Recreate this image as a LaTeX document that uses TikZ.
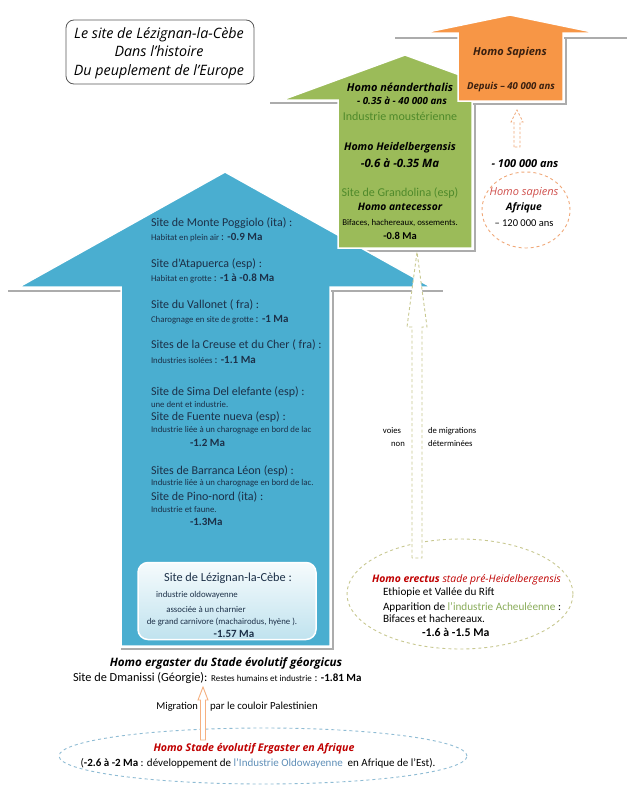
\documentclass[tikz,border=0pt]{standalone}
\usepackage{fontspec}
\setmainfont{Carlito}
\newfontfamily\hf{Open Sans}
\usetikzlibrary{calc,shapes.geometric}
\definecolor{bluefill}{HTML}{4AAED0}
\definecolor{greenfill}{HTML}{9BBB59}
\definecolor{orangefill}{HTML}{F79646}
\definecolor{navytext}{HTML}{1C3048}
\definecolor{darkgreen}{HTML}{4F8A2B}
\definecolor{lightgreen}{HTML}{8AAD5A}
\definecolor{redtext}{HTML}{C00000}
\definecolor{pinkred}{HTML}{D0504D}
\definecolor{oldo}{HTML}{5F8FB8}
\definecolor{olivedash}{HTML}{C8C890}
\definecolor{bluedash}{HTML}{8FBCD4}
\definecolor{orangedash}{HTML}{F0A878}
\definecolor{orangeline}{HTML}{F5B080}
\definecolor{brownish}{HTML}{3A2010}
\newcommand\fsz[1]{\fontsize{#1}{#1}\selectfont}
\newcommand\hollowarrow[6]{%
  \path[#1] ($(#2)+(-#4,0)$) -- ($(#2 |- #3)+(-#4,#6)$) -- ($(#2 |- #3)+(-#5,#6)$) -- (#3)
    -- ($(#2 |- #3)+(#5,#6)$) -- ($(#2 |- #3)+(#4,#6)$) -- ($(#2)+(#4,0)$) -- cycle;}
\tikzset{
  shadowline/.style={draw=gray!65, line width=1.2pt},
  blockarrow/.style={draw=white, line width=1.5pt},
  txt/.style={inner sep=0pt, outer sep=0pt},
  bluetxt/.style={txt, anchor=west, text=navytext},
  headtxt/.style={txt, font=\hf\bfseries\itshape},
  dashellipse/.style={ellipse, dashed, line width=0.9pt, inner sep=0pt},
}
\begin{document}
\begin{tikzpicture}[x=1pt,y=-1pt]
\useasboundingbox (0,0) rectangle (640,803);
\fill[white] (0,0) rectangle (640,803);
% ---------- shadows
\draw[shadowline] (8,291) -- (121,291);
\draw[shadowline] (331,291) -- (443,291);
\draw[shadowline] (333,291) -- (333,649) -- (121,649);
\draw[shadowline] (270,103) -- (338,103);
\draw[shadowline] (475,103) -- (475,251) -- (338,251);
\draw[shadowline] (395,38) -- (458,38);
\draw[shadowline] (563,38) -- (627,38);
\draw[shadowline] (566,38) -- (566,104) -- (458,104);
% ---------- big arrows
\path[blockarrow, fill=bluefill] (225,172) -- (431,287) -- (330,287) -- (330,646) -- (121,646) -- (121,287) -- (19,287) -- cycle;
\path[blockarrow, fill=greenfill] (405,55) -- (528,100) -- (472,100) -- (472,248) -- (338,248) -- (338,100) -- (282,100) -- cycle;
\path[blockarrow, fill=orangefill] (510,15) -- (597,33) -- (563,33) -- (563,101) -- (458,101) -- (458,33) -- (423,33) -- cycle;
% ---------- title
\node[draw=gray!70!black, line width=0.8pt, rounded corners=8pt, fill=white,
      minimum width=188pt, minimum height=64pt, inner sep=0pt] (title) at (160,52) {};
\node[txt, font=\hf\itshape\fontsize{14.3}{18.5}\selectfont, align=center] (titletext) at (159,53)
  {Le site de Lézignan-la-Cèbe\\Dans l’histoire\\Du peuplement de l’Europe};
% ---------- orange texts
\node[headtxt, text=brownish, font=\hf\bfseries\itshape\fsz{11}] (hs) at (510,53) {Homo Sapiens};
\node[headtxt, text=brownish, font=\hf\bfseries\itshape\fsz{9.6}] (hsd) at (511,87) {Depuis – 40 000 ans};
% ---------- green texts
\node[headtxt, font=\hf\bfseries\itshape\fsz{11}] (nea) at (400,87) {Homo néanderthalis};
\node[headtxt, font=\hf\bfseries\itshape\fsz{9.8}] (nead) at (402,101) {- 0.35 à - 40 000 ans};
\node[txt, text=darkgreen, font=\fsz{12}] (mous) at (400,116) {Industrie moustérienne};
\node[headtxt, font=\hf\bfseries\itshape\fsz{10.6}] (hei) at (400,148) {Homo Heidelbergensis};
\node[headtxt, font=\hf\bfseries\itshape\fsz{11.5}] (heid) at (400,163) {-0.6 à -0.35 Ma};
\node[txt, text=darkgreen, font=\fsz{12}] (gran) at (400,193) {Site de Grandolina (esp)};
\node[headtxt, font=\hf\bfseries\itshape\fsz{10.3}] (ante) at (400,207) {Homo antecessor};
\node[txt, font=\fsz{8.8}] (bif) at (400,223) {Bifaces, hachereaux, ossements.};
\node[txt, font=\bfseries\fsz{10.5}] (ante8) at (400,236) {-0.8 Ma};
% ---------- blue texts
\node[bluetxt, font=\fsz{12}] (b1) at (151,223) {Site de Monte Poggiolo (ita) :};
\node[bluetxt] (b1s) at (151,238) {\fsz{8.8}Habitat en plein air {\fsz{11}: \bfseries -0.9 Ma}};
\node[bluetxt, font=\fsz{12}] (b2) at (151,264) {Site d’Atapuerca (esp) :};
\node[bluetxt] (b2s) at (151,278) {\fsz{8.8}Habitat en grotte {\fsz{11}: \bfseries -1 à -0.8 Ma}};
\node[bluetxt, font=\fsz{12}] (b3) at (151,305) {Site du Vallonet ( fra) :};
\node[bluetxt] (b3s) at (151,320) {\fsz{8.8}Charognage en site de grotte {\fsz{11}: \bfseries -1 Ma}};
\node[bluetxt, font=\fsz{12}] (b4) at (151,345) {Sites de la Creuse et du Cher ( fra) :};
\node[bluetxt] (b4s) at (151,360) {\fsz{8.8}Industries isolées {\fsz{11}: \bfseries -1.1 Ma}};
\node[bluetxt, font=\fsz{12}] (b5) at (151,392) {Site de Sima Del elefante (esp) :};
\node[bluetxt, font=\fsz{8.8}] (b5s) at (151,404) {une dent et industrie.};
\node[bluetxt, font=\fsz{12}] (b6) at (151,417) {Site de Fuente nueva (esp) :};
\node[bluetxt, font=\fsz{8.8}] (b6s) at (151,430) {Industrie liée à un charognage en bord de lac};
\node[bluetxt, font=\bfseries\fsz{11}] (b6d) at (190,443) {-1.2 Ma};
\node[bluetxt, font=\fsz{12}] (b7) at (151,471) {Sites de Barranca Léon (esp) :};
\node[bluetxt, font=\fsz{8.8}] (b7s) at (151,483) {Industrie liée à un charognage en bord de lac.};
\node[bluetxt, font=\fsz{12}] (b8) at (151,497) {Site de Pino-nord (ita) :};
\node[bluetxt, font=\fsz{8.8}] (b8s) at (151,509) {Industrie et faune.};
\node[bluetxt, font=\bfseries\fsz{11}] (b8d) at (190,522) {-1.3Ma};
% ---------- Lezignan box
\node[rounded corners=10pt, top color=white!80!bluefill!25, bottom color=bluefill!35,
      draw=white, line width=1.5pt, minimum width=178pt, minimum height=77pt, inner sep=0pt] (lez) at (227,601) {};
\node[txt, text=navytext, font=\fsz{12.3}] (lz1) at (228,578) {Site de Lézignan-la-Cèbe :};
\node[txt, text=navytext, font=\fsz{8.8}] (lz2) at (197,595) {industrie oldowayenne};
\node[txt, text=navytext, font=\fsz{8.8}] (lz3) at (206,609) {associée à un charnier};
\node[txt, text=navytext, font=\fsz{8.8}] (lz4) at (222,622) {de grand carnivore (machairodus, hyène ).};
\node[txt, text=navytext, font=\bfseries\fsz{11}] (lz5) at (234,634) {-1.57 Ma};
% ---------- sapiens circle
\node[dashellipse, draw=orangedash, minimum width=88pt, minimum height=76pt] (sapc) at (526,210) {};
\node[txt, text=pinkred, font=\hf\itshape\fsz{11}] (sap1) at (524,193) {Homo sapiens};
\node[headtxt, font=\hf\bfseries\itshape\fsz{10.3}] (sap2) at (524,208) {Afrique};
\node[txt, font=\fsz{10.5}] (sap3) at (524,223) {– 120 000 ans};
\node[headtxt, font=\hf\bfseries\itshape\fsz{11}] (sap4) at (525,164) {- 100 000 ans};
\coordinate (sapbase) at (517,147);
\coordinate (sapbot) at (517,110);
\hollowarrow{draw=orangedash, dashed, line width=0.8pt, dash pattern=on 2.5pt off 2pt}{sapbase}{sapbot}{3}{6}{12}
% ---------- erectus ellipse
\node[dashellipse, draw=olivedash, minimum width=226pt, minimum height=110pt] (erec) at (460,594) {};
\node[txt, text=redtext, anchor=west] (er1) at (372,580) {\hf\fsz{10.4}\bfseries\itshape Homo erectus {\mdseries stade pré-Heidelbergensis}};
\node[txt, anchor=west, font=\fsz{11.2}] (er2) at (383,593) {Ethiopie et Vallée du Rift};
\node[txt, anchor=west, font=\fsz{11.2}] (er3) at (383,607) {Apparition de \textcolor{lightgreen}{l’industrie Acheuléenne} :};
\node[txt, anchor=west, font=\fsz{11.2}] (er4) at (383,619) {Bifaces et hachereaux.};
\node[txt, anchor=west, font=\bfseries\fsz{11.8}] (er5) at (422,632) {-1.6 à -1.5 Ma};
\coordinate (erbase) at (417,558);
\coordinate (gbot) at (417,252);
\hollowarrow{draw=olivedash, fill=white, dashed, line width=0.9pt, dash pattern=on 3pt off 2.5pt}{erbase}{gbot}{5}{10}{75}
\node[txt, font=\fsz{8.7}] (v1) at (392,431) {voies};
\node[txt, font=\fsz{8.7}, anchor=west] (v2) at (428,431) {de migrations};
\node[txt, font=\fsz{8.7}] (v3) at (398,444) {non};
\node[txt, font=\fsz{8.7}, anchor=west] (v4) at (428,444) {déterminées};
% ---------- bottom part
\node[headtxt, font=\hf\bfseries\itshape\fsz{11.6}] (erg) at (226,663) {Homo ergaster du Stade évolutif géorgicus};
\node[txt, anchor=west] (dma) at (73,678) {\fsz{12.3}Site de Dmanissi (Géorgie): {\fsz{9}Restes humains et industrie} {\fsz{11}: \bfseries -1.81 Ma}};
\node[dashellipse, draw=bluedash, minimum width=408pt, minimum height=56pt] (afr) at (263,756) {};
\node[headtxt, text=redtext, font=\hf\bfseries\itshape\fsz{10.6}] (afr1) at (254,749) {Homo Stade évolutif Ergaster en Afrique};
\node[txt, font=\fsz{11}] (afr2) at (258,763) {(\textbf{-2.6 à -2 Ma} : développement de \textcolor{oldo}{l’Industrie Oldowayenne}\ \ en Afrique de l’Est).};
\coordinate (afrtop) at (203,740);
\coordinate (dmabot) at (203,687);
\hollowarrow{draw=orangeline, fill=white, line width=0.9pt}{afrtop}{dmabot}{2.5}{5}{13}
\node[txt, font=\fsz{10.5}, anchor=east] (mig1) at (198,707) {Migration};
\node[txt, font=\fsz{10.8}, anchor=west] (mig2) at (210,707) {par le couloir Palestinien};
\end{tikzpicture}
\end{document}
